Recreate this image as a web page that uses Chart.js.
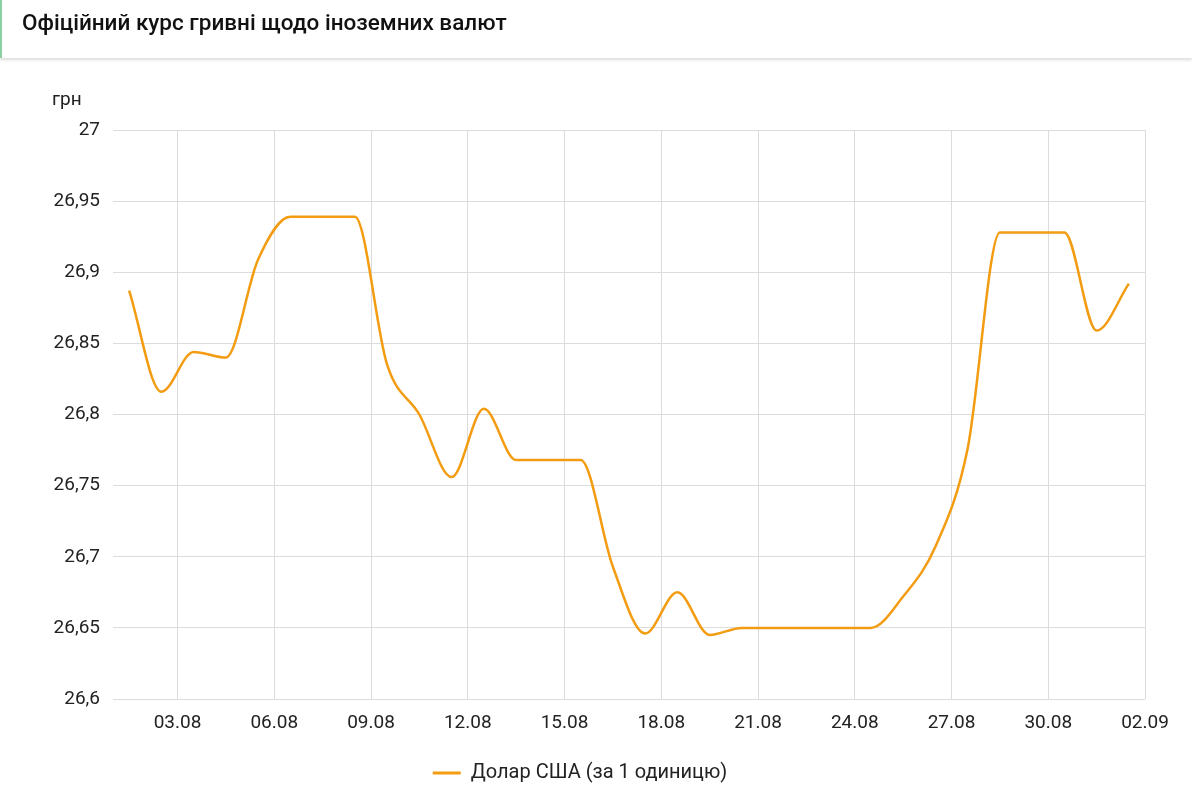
<!DOCTYPE html>
<html>
<head>
<meta charset="utf-8">
<script src="https://cdn.jsdelivr.net/npm/chart.js@4.4.1/dist/chart.umd.min.js"></script>
<style>
  html, body { margin: 0; padding: 0; background: #fff; }
  body { width: 1192px; height: 803px; position: relative; overflow: hidden; font-family: Roboto, "Noto Sans", sans-serif; }
  #header { position: absolute; left: 0; top: 0; width: 1192px; height: 58px; background: #fff;
            border-left: 2px solid #8ccfa3; box-sizing: border-box; box-shadow: 0 2px 3px rgba(0,0,0,0.14); z-index: 2; }
  #header h1 { margin: 0; position: absolute; left: 20px; top: 8px; font-size: 22.5px; font-weight: 500; color: #111; line-height: 28px; }
  #unit { position: absolute; left: 52px; top: 89px; font-size: 19px; line-height: 19px; color: #222; z-index: 2; }
  #wrap { position: absolute; left: 0; top: 0; width: 1192px; height: 803px; }
</style>
</head>
<body>
<div id="header"><h1>Офіційний курс гривні щодо іноземних валют</h1></div>
<div id="unit">грн</div>
<div id="wrap"><canvas id="c"></canvas></div>
<script>
// Dates of the observations (one per day)
const days = ['01.08','02.08','03.08','04.08','05.08','06.08','07.08','08.08','09.08','10.08',
              '11.08','12.08','13.08','14.08','15.08','16.08','17.08','18.08','19.08','20.08',
              '21.08','22.08','23.08','24.08','25.08','26.08','27.08','28.08','29.08','30.08',
              '31.08','01.09'];
// USD rate, UAH per 1 unit
const usdRate = [26.887, 26.816, 26.844, 26.840, 26.909, 26.939, 26.939, 26.939, 26.835, 26.800,
                 26.756, 26.804, 26.768, 26.768, 26.768, 26.693, 26.646, 26.675, 26.645, 26.650,
                 26.650, 26.650, 26.650, 26.650, 26.672, 26.707, 26.776, 26.928, 26.928, 26.928,
                 26.859, 26.892];
// X-axis tick labels
const xTickLabels = ['03.08','06.08','09.08','12.08','15.08','18.08','21.08','24.08','27.08','30.08','02.09'];
// Y-axis ticks
const yTicks = [26.6, 26.65, 26.7, 26.75, 26.8, 26.85, 26.9, 26.95, 27];
const seriesLabel = 'Долар США (за 1 одиницю)';

// day offset from 01.08 00:00
function dayIndex(s) {
  const [d, m] = s.split('.').map(Number);
  return (m === 9 ? 31 : 0) + d - 1;
}
const points = days.map((d, i) => ({ x: dayIndex(d) + 0.5, y: usdRate[i] }));
const xMax = dayIndex(xTickLabels[xTickLabels.length - 1]);

const FONT = 'Roboto, "Noto Sans", sans-serif';
const GRID = '#dcdcdc';
const ORANGE = '#f39c12';

new Chart(document.getElementById('c'), {
  type: 'line',
  data: {
    datasets: [{
      label: seriesLabel,
      data: points,
      borderColor: ORANGE,
      backgroundColor: ORANGE,
      borderWidth: 2.5,
      pointRadius: 0,
      pointHoverRadius: 0,
      cubicInterpolationMode: 'monotone',
      fill: false
    }]
  },
  options: {
    responsive: true,
    maintainAspectRatio: false,
    animation: false,
    layout: { padding: { left: 15, right: 47, top: 130, bottom: 10 } },
    plugins: {
      tooltip: { enabled: false },
      legend: {
        position: 'bottom',
        align: 'center',
        labels: {
          boxWidth: 28,
          boxHeight: 3,
          padding: 10,
          color: '#222',
          font: { family: FONT, size: 20 },
          generateLabels: (chart) => chart.data.datasets.map((ds, i) => ({
            text: ds.label, fillStyle: ds.borderColor, strokeStyle: ds.borderColor,
            lineWidth: 0, hidden: false, datasetIndex: i, fontColor: '#222'
          }))
        }
      }
    },
    scales: {
      x: {
        type: 'linear',
        min: 0,
        max: xMax,
        grid: { color: GRID, lineWidth: 1, drawTicks: false },
        border: { display: false },
        afterBuildTicks: (scale) => { scale.ticks = xTickLabels.map(l => ({ value: dayIndex(l) })); },
        afterFit: (scale) => { scale.height = 54; scale.paddingRight = 0; scale.paddingLeft = 0; },
        ticks: {
          autoSkip: false, maxRotation: 0, minRotation: 0, padding: 13,
          color: '#222', font: { family: FONT, size: 19 },
          callback: (v) => { const l = xTickLabels.find(t => dayIndex(t) === v); return l || ''; }
        }
      },
      y: {
        min: yTicks[0],
        max: yTicks[yTicks.length - 1],
        grid: { color: GRID, lineWidth: 1, drawTicks: false },
        border: { display: false },
        afterBuildTicks: (scale) => { scale.ticks = yTicks.map(v => ({ value: v })); },
        afterFit: (scale) => { scale.width = 98; },
        ticks: {
          padding: 13, color: '#222', font: { family: FONT, size: 19 },
          callback: (v) => String(Number(v.toFixed(2))).replace('.', ',')
        }
      }
    }
  }
});
</script>
</body>
</html>
